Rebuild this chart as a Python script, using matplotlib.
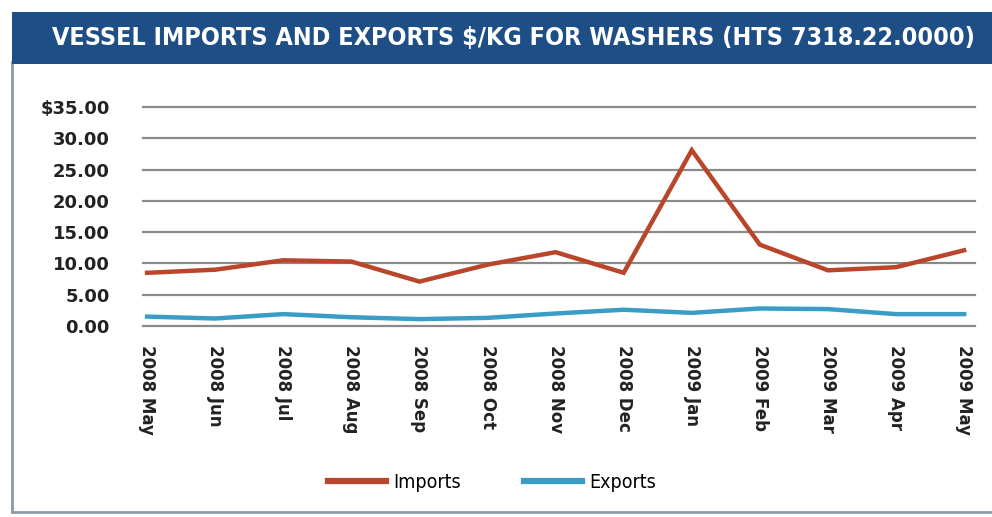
import matplotlib.pyplot as plt
from matplotlib.patches import Rectangle

months = ["2008 May", "2008 Jun", "2008 Jul", "2008 Aug", "2008 Sep", "2008 Oct",
          "2008 Nov", "2008 Dec", "2009 Jan", "2009 Feb", "2009 Mar", "2009 Apr",
          "2009 May"]
imports = [8.5, 9.0, 10.5, 10.3, 7.1, 9.8, 11.8, 8.5, 28.1, 13.0, 8.9, 9.4, 12.1]
exports = [1.5, 1.2, 1.9, 1.4, 1.1, 1.3, 2.0, 2.6, 2.1, 2.8, 2.7, 1.9, 1.9]
yticks = [0, 5, 10, 15, 20, 25, 30, 35]
ylabels = ["0.00", "5.00", "10.00", "15.00", "20.00", "25.00", "30.00", "$35.00"]

W, H = 992, 517
fig = plt.figure(figsize=(W / 100, H / 100), dpi=100)

# frame and title bar
fig.patches.append(Rectangle((12 / W, 5 / H), 1.2, 450 / H, transform=fig.transFigure,
                             facecolor="white", edgecolor="#8c9aa6", lw=2, zorder=0))
fig.patches.append(Rectangle((12 / W, 1 - 64 / H), 1.2, 52 / H, transform=fig.transFigure,
                             facecolor="#1d4e86", edgecolor="none", zorder=1))
fig.text(513 / W, 1 - 38 / H, "VESSEL IMPORTS AND EXPORTS $/KG FOR WASHERS (HTS 7318.22.0000)",
         color="white", fontsize=18, fontweight="bold", fontstretch="condensed",
         ha="center", va="center")

ax = fig.add_axes([143 / W, 1 - 326 / H, (975 - 143) / W, (326 - 107) / H], zorder=3)
ax.patch.set_visible(False)
x = list(range(len(months)))
ax.plot(x, imports, color="#b9462b", lw=3.2, label="Imports", solid_joinstyle="miter")
ax.plot(x, exports, color="#3a9dc6", lw=3.2, label="Exports")

ax.set_xlim(-0.06, 12.16)
ax.set_ylim(0, 35)
ax.set_yticks(yticks)
ax.set_yticklabels(ylabels, fontsize=13, fontweight="bold", color="#222222")
ax.set_xticks(x)
ax.set_xticklabels(months, rotation=-90, fontsize=12, fontweight="bold", color="#222222",
                   va="top", ha="center")
ax.tick_params(length=0)
ax.tick_params(axis="y", pad=24)
ax.tick_params(axis="x", pad=14)
for gl in ax.get_ygridlines():
    gl.set_clip_on(False)
ax.grid(axis="y", color="#8a8a8a", lw=1.6)
for gl in ax.get_ygridlines():
    gl.set_clip_on(False)
ax.set_axisbelow(True)
for s in ax.spines.values():
    s.set_visible(False)

leg = fig.legend(loc="center", bbox_to_anchor=(492 / W, 1 - 482 / H), ncol=2, frameon=False,
                 handlelength=3.0, columnspacing=3.2, handletextpad=0.4,
                 prop={"size": 14, "stretch": "condensed"})
for h in leg.get_lines():
    h.set_linewidth(4.5)

fig.savefig("out.png", dpi=100)
